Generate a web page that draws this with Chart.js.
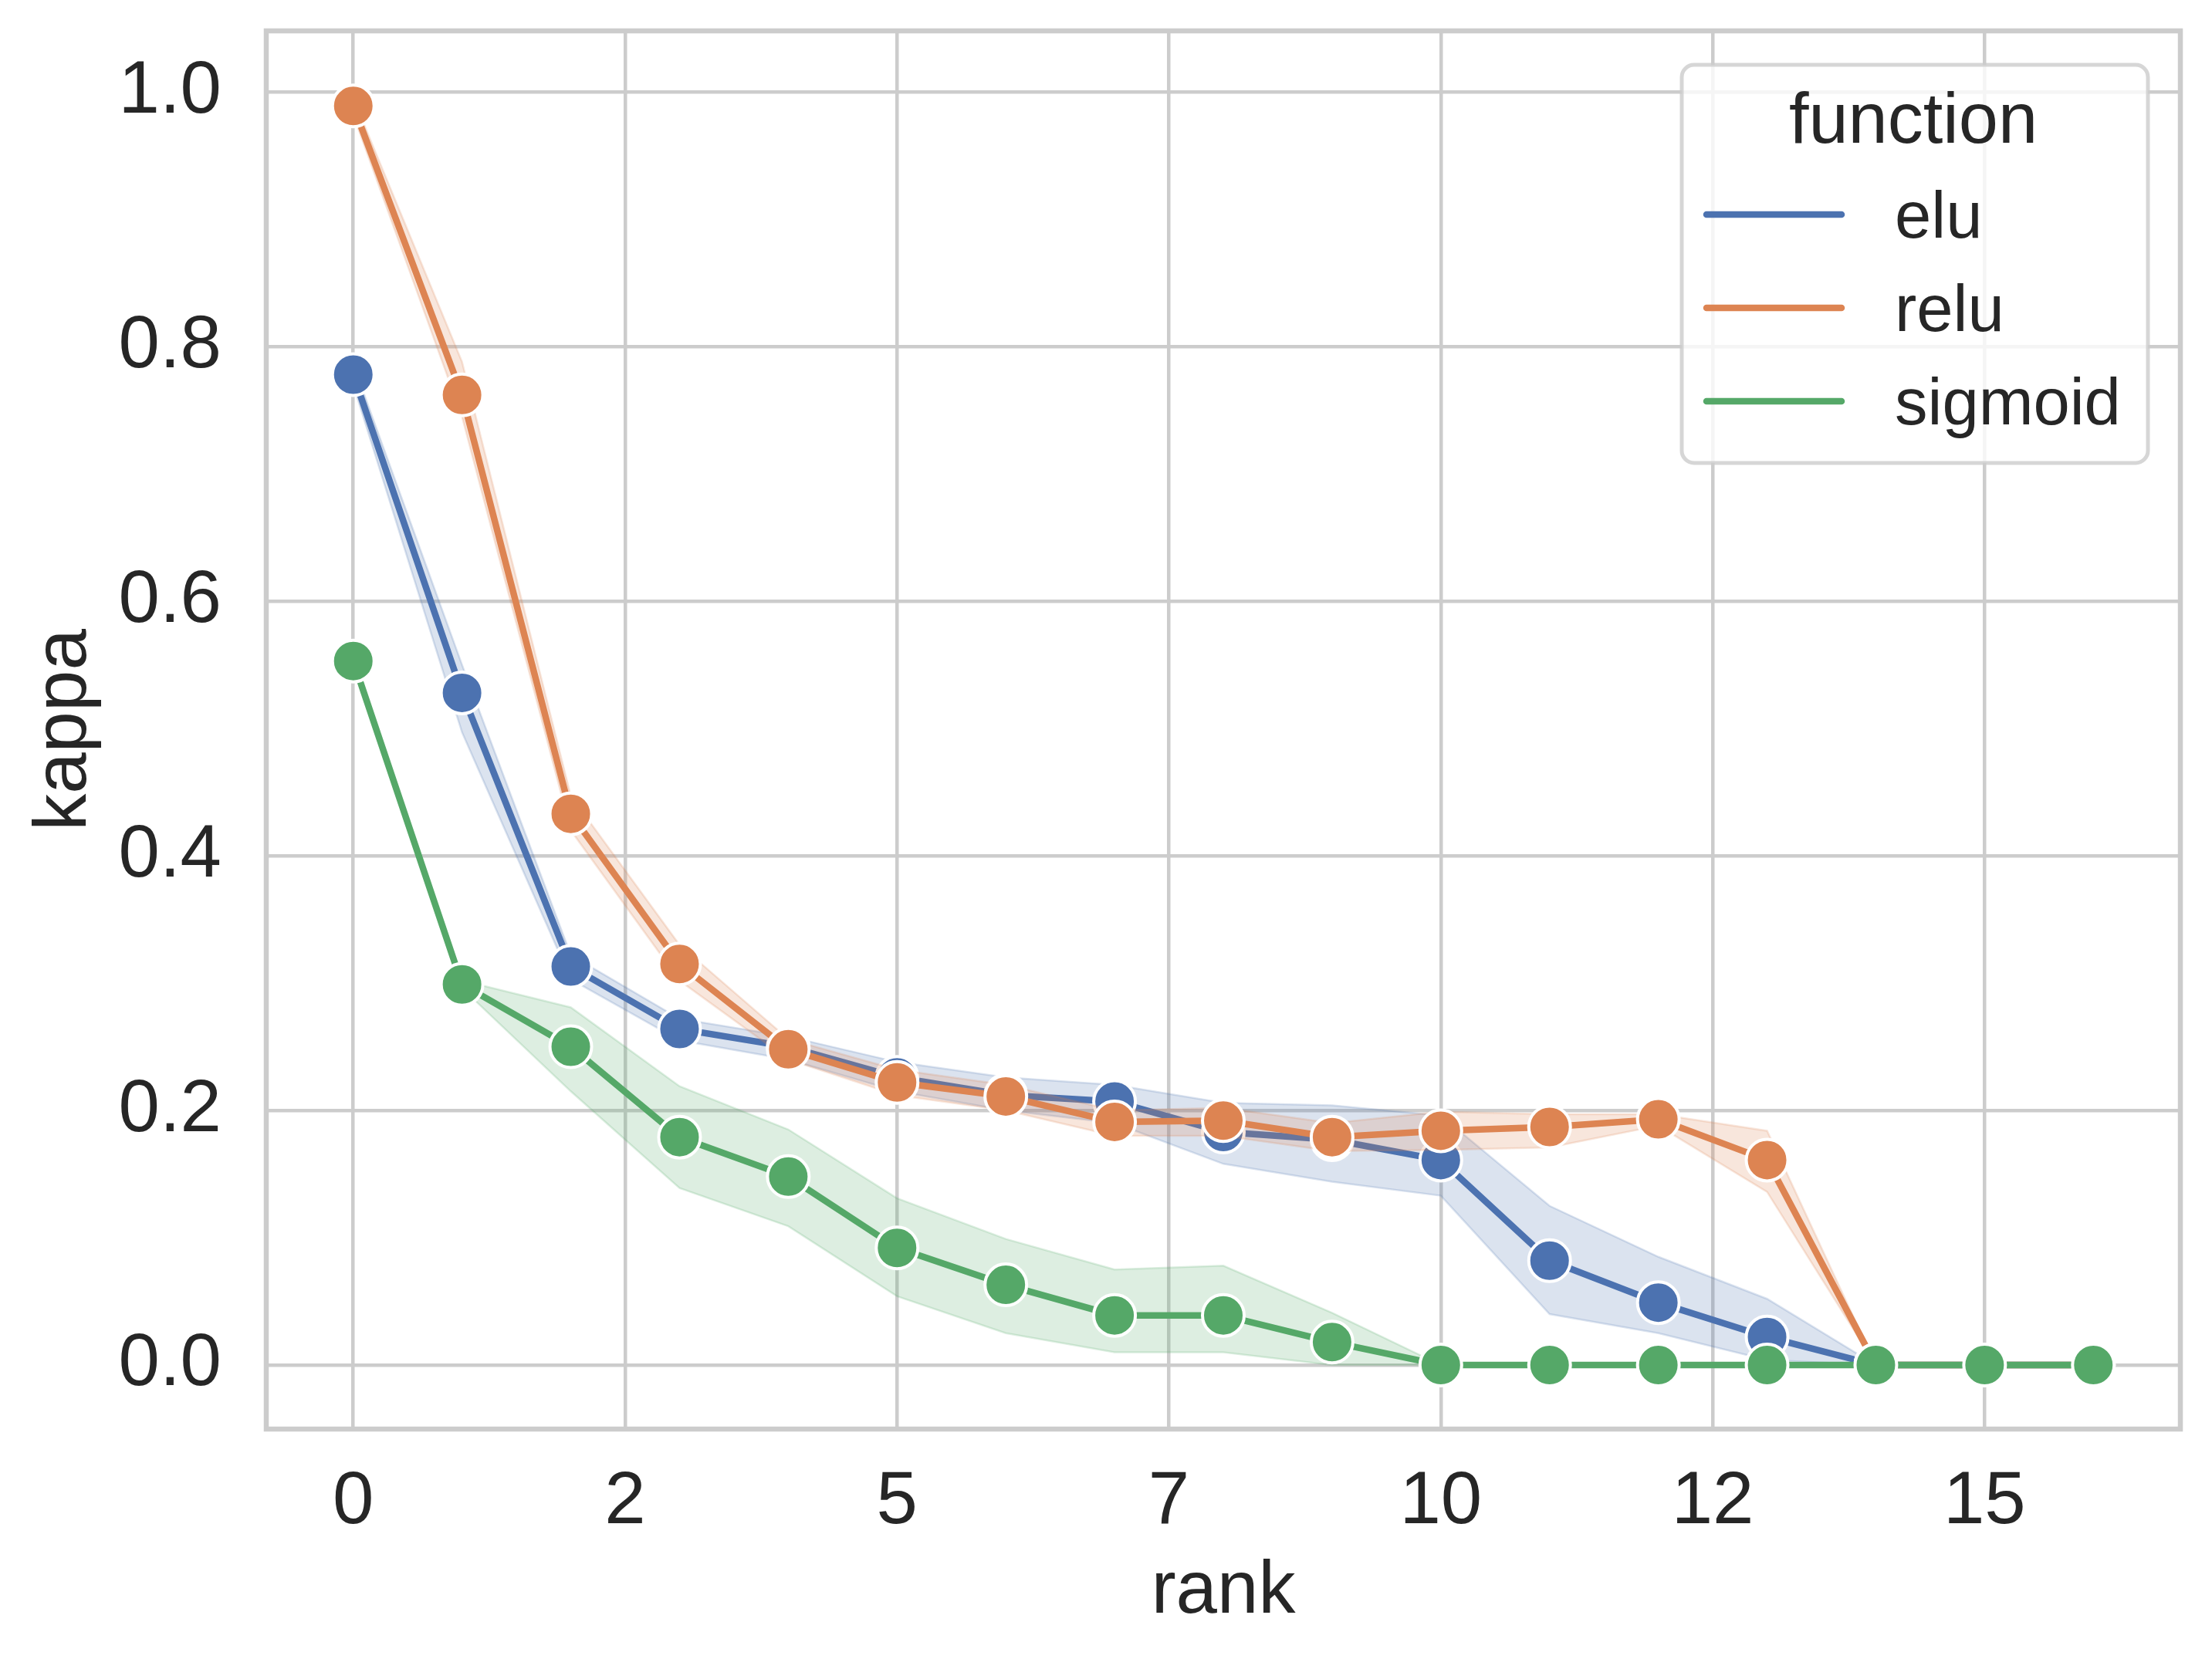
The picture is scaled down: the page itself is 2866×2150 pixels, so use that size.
<!DOCTYPE html>
<html lang="en">

<head>
    <meta charset="UTF-8">
    <title>kappa by rank</title>
    <script src="https://cdn.jsdelivr.net/npm/chart.js"></script>
    <style>
        html, body {
            margin: 0;
            padding: 0;
            background: #ffffff;
        }
        .chart-container {
            position: relative;
            width: 2866px;
            height: 2150px;
        }
    </style>
</head>

<body>
    <div class="chart-container">
        <canvas id="kappaChart"></canvas>
    </div>

    <script>
        // values
        const rank = [0, 1, 2, 3, 4, 5, 6, 7, 8, 9, 10, 11, 12, 13, 14, 15, 16];
        const functionNames = ['elu', 'relu', 'sigmoid'];

        const eluKappa = [0.778, 0.528, 0.313, 0.264, 0.250, 0.226, 0.212, 0.207, 0.183, 0.177, 0.161, 0.082, 0.049, 0.022, 0, 0, 0];
        const eluLow   = [0.770, 0.497, 0.303, 0.255, 0.240, 0.215, 0.200, 0.190, 0.158, 0.144, 0.133, 0.040, 0.025, 0.004, 0, 0, 0];
        const eluHigh  = [0.786, 0.550, 0.322, 0.272, 0.258, 0.238, 0.226, 0.220, 0.206, 0.204, 0.196, 0.125, 0.085, 0.052, 0, 0, 0];

        const reluKappa = [0.989, 0.762, 0.433, 0.315, 0.248, 0.222, 0.211, 0.191, 0.192, 0.179, 0.184, 0.187, 0.193, 0.161, 0, 0, 0];
        const reluLow   = [0.982, 0.745, 0.420, 0.302, 0.240, 0.212, 0.200, 0.180, 0.180, 0.168, 0.169, 0.171, 0.188, 0.136, 0, 0, 0];
        const reluHigh  = [0.995, 0.788, 0.447, 0.330, 0.256, 0.232, 0.220, 0.200, 0.202, 0.190, 0.199, 0.197, 0.197, 0.184, 0, 0, 0];

        const sigmoidKappa = [0.553, 0.299, 0.250, 0.179, 0.148, 0.092, 0.063, 0.039, 0.039, 0.018, 0, 0, 0, 0, 0, 0, 0];
        const sigmoidLow   = [0.553, 0.296, 0.215, 0.139, 0.109, 0.054, 0.025, 0.010, 0.010, 0, 0, 0, 0, 0, 0, 0, 0];
        const sigmoidHigh  = [0.553, 0.302, 0.281, 0.219, 0.185, 0.131, 0.099, 0.075, 0.078, 0.041, 0, 0, 0, 0, 0, 0, 0];

        const xTickValues = [0, 2.5, 5, 7.5, 10, 12.5, 15];
        const xTickLabels = ['0', '2', '5', '7', '10', '12', '15'];
        const yTickValues = [0, 0.2, 0.4, 0.6, 0.8, 1.0];
        const yTickLabels = ['0.0', '0.2', '0.4', '0.6', '0.8', '1.0'];

        const legendTitle = 'function';
        const xTitle = 'rank';
        const yTitle = 'kappa';

        const palette = { elu: '#4C72B0', relu: '#DD8452', sigmoid: '#55A868' };
        const fontFamily = '"Liberation Sans", Arial, sans-serif';
        const textColor = '#262626';
        const gridColor = '#cccccc';

        function rgba(hex, a) {
            const n = parseInt(hex.slice(1), 16);
            return `rgba(${(n >> 16) & 255}, ${(n >> 8) & 255}, ${n & 255}, ${a})`;
        }

        function points(values) {
            return rank.map((r, i) => ({ x: r, y: values[i] }));
        }

        const series = [
            { name: 'elu', mean: eluKappa, low: eluLow, high: eluHigh },
            { name: 'relu', mean: reluKappa, low: reluLow, high: reluHigh },
            { name: 'sigmoid', mean: sigmoidKappa, low: sigmoidLow, high: sigmoidHigh }
        ];

        // band + line per function; later functions drawn on top
        const datasets = [];
        series.forEach((s, k) => {
            const color = palette[s.name];
            const band = rgba(color, 0.2);
            const lineOrder = 8 - 3 * k;
            datasets.push({
                label: s.name,
                data: points(s.mean),
                borderColor: color,
                backgroundColor: color,
                borderWidth: 8.5,
                pointRadius: 27,
                pointHoverRadius: 27,
                pointBackgroundColor: color,
                pointBorderColor: '#ffffff',
                pointBorderWidth: 4,
                fill: false,
                order: lineOrder
            });
            const lowIndex = datasets.length;
            datasets.push({
                label: s.name + ' low',
                data: points(s.low),
                borderColor: band,
                borderWidth: 2.5,
                pointRadius: 0,
                fill: false,
                order: lineOrder + 1
            });
            datasets.push({
                label: s.name + ' high',
                data: points(s.high),
                borderColor: band,
                backgroundColor: band,
                borderWidth: 2.5,
                pointRadius: 0,
                fill: lowIndex,
                order: lineOrder + 1
            });
        });

        // light grey frame round the plot area
        const frame = {
            id: 'frame',
            beforeDatasetsDraw(chart) {
                const { ctx, chartArea: a } = chart;
                ctx.save();
                ctx.strokeStyle = gridColor;
                ctx.lineWidth = 6.5;
                ctx.strokeRect(a.left, a.top, a.right - a.left, a.bottom - a.top);
                ctx.restore();
            }
        };

        // seaborn style legend box in the top right corner
        const legendBox = {
            id: 'legendBox',
            afterDraw(chart) {
                const { ctx, chartArea: a } = chart;
                const left = a.right - 646;
                const top = a.top + 44;
                ctx.save();
                ctx.beginPath();
                ctx.roundRect(left, top, 604, 516, 16);
                ctx.fillStyle = 'rgba(255, 255, 255, 0.8)';
                ctx.fill();
                ctx.lineWidth = 5;
                ctx.strokeStyle = 'rgba(204, 204, 204, 0.8)';
                ctx.stroke();

                ctx.fillStyle = textColor;
                ctx.textBaseline = 'alphabetic';
                ctx.textAlign = 'center';
                ctx.font = `92px ${fontFamily}`;
                ctx.fillText(legendTitle, left + 300, top + 101);

                ctx.textAlign = 'left';
                ctx.font = `85px ${fontFamily}`;
                functionNames.forEach((name, i) => {
                    const y = top + 194 + i * 121;
                    ctx.strokeStyle = palette[name];
                    ctx.lineWidth = 8.5;
                    ctx.lineCap = 'round';
                    ctx.beginPath();
                    ctx.moveTo(left + 32, y);
                    ctx.lineTo(left + 207, y);
                    ctx.stroke();
                    ctx.fillText(name, left + 276, y + 30);
                });
                ctx.restore();
            }
        };

        function noScalePadding(scale) {
            scale.paddingTop = 0;
            scale.paddingBottom = 0;
            scale.paddingLeft = 0;
            scale.paddingRight = 0;
        }

        new Chart(document.getElementById('kappaChart'), {
            type: 'line',
            data: { datasets: datasets },
            plugins: [frame, legendBox],
            options: {
                responsive: true,
                maintainAspectRatio: false,
                devicePixelRatio: 1,
                animation: false,
                layout: {
                    padding: { left: 0, top: 40, right: 41, bottom: 0 }
                },
                plugins: {
                    legend: { display: false },
                    tooltip: { enabled: false }
                },
                scales: {
                    x: {
                        type: 'linear',
                        min: -0.8,
                        max: 16.8,
                        afterBuildTicks: scale => {
                            scale.ticks = xTickValues.map(v => ({ value: v }));
                        },
                        afterFit: scale => {
                            scale.height = 298;
                            noScalePadding(scale);
                        },
                        ticks: {
                            callback: (value, index) => xTickLabels[index],
                            color: textColor,
                            font: { family: fontFamily, size: 96 },
                            padding: 38,
                            maxRotation: 0,
                            autoSkip: false
                        },
                        grid: {
                            color: gridColor,
                            lineWidth: 4.5,
                            drawTicks: false
                        },
                        border: { display: false },
                        title: {
                            display: true,
                            text: xTitle,
                            color: textColor,
                            font: { family: fontFamily, size: 96 },
                            padding: { top: 0, bottom: 29 }
                        }
                    },
                    y: {
                        type: 'linear',
                        min: -0.0503,
                        max: 1.048,
                        afterBuildTicks: scale => {
                            scale.ticks = yTickValues.map(v => ({ value: v }));
                        },
                        afterFit: scale => {
                            scale.width = 345;
                            noScalePadding(scale);
                        },
                        ticks: {
                            callback: (value, index) => yTickLabels[index],
                            color: textColor,
                            font: { family: fontFamily, size: 96 },
                            padding: 58
                        },
                        grid: {
                            color: gridColor,
                            lineWidth: 4.5,
                            drawTicks: false
                        },
                        border: { display: false },
                        title: {
                            display: true,
                            text: yTitle,
                            color: textColor,
                            font: { family: fontFamily, size: 96 },
                            padding: { top: 27, bottom: 0 }
                        }
                    }
                }
            }
        });
    </script>
</body>

</html>
